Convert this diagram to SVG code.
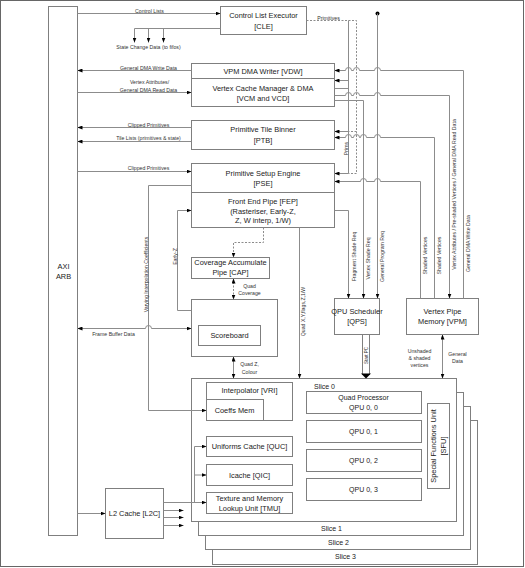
<svg xmlns="http://www.w3.org/2000/svg" width="525" height="568" viewBox="0 0 525 568">
<defs>
<style>
.b{fill:#fff;stroke:#7f7f7f;stroke-width:1}
.c{fill:none;stroke:#8c8c8c;stroke-width:1}
.d{stroke-dasharray:2 1.5}
text{font-family:"Liberation Sans",Arial,sans-serif;fill:#1a1a1a;text-anchor:middle;dominant-baseline:central}
.t{font-size:7.4px}
.q{font-size:7px}
.s{font-size:5.2px;fill:#333}
</style>
<marker id="a" viewBox="0 0 10 8" refX="10" refY="4" markerWidth="5" markerHeight="4" orient="auto-start-reverse" markerUnits="userSpaceOnUse"><path d="M0,0L10,4L0,8z" fill="#000"/></marker>
</defs>
<rect x="0" y="0" width="525" height="568" fill="#fff"/>
<rect x="0.5" y="0.5" width="523" height="566" fill="none" stroke="#666"/>
<g transform="translate(0.5,0.5)">
<g id="slices">
<rect class="b" x="212" y="420" width="265" height="144"/>
<rect class="b" x="205" y="406" width="265" height="143"/>
<rect class="b" x="198" y="392" width="265" height="143"/>
<rect class="b" x="191" y="378" width="265" height="143"/>
<text class="q" x="331" y="528">Slice 1</text>
<text class="q" x="338" y="542">Slice 2</text>
<text class="q" x="345" y="556">Slice 3</text>
<text class="q" x="324" y="386">Slice 0</text>
</g>
<g id="axi"><rect class="b" x="48" y="6" width="29" height="529"/><text class="t" x="63" y="266">AXI</text><text class="t" x="63" y="276">ARB</text></g>
<g id="cle"><rect class="b" x="220" y="6" width="86" height="28"/><text class="t" x="263" y="15">Control List Executor</text><text class="t" x="263" y="26">[CLE]</text></g>
<g id="vdw"><rect class="b" x="191" y="63" width="143" height="15"/><text class="t" x="262.5" y="71">VPM DMA Writer [VDW]</text></g>
<g id="vcm"><rect class="b" x="191" y="78" width="143" height="28"/><text class="t" x="262.5" y="88">Vertex Cache Manager &amp; DMA</text><text class="t" x="262.5" y="98">[VCM and VCD]</text></g>
<g id="ptb"><rect class="b" x="191" y="120" width="143" height="29"/><text class="t" x="262.5" y="129">Primitive Tile Binner</text><text class="t" x="262.5" y="140">[PTB]</text></g>
<g id="pse"><rect class="b" x="191" y="163" width="143" height="29"/><text class="t" x="262.5" y="173">Primitive Setup Engine</text><text class="t" x="262.5" y="183">[PSE]</text></g>
<g id="fep"><rect class="b" x="191" y="192" width="143" height="35"/><text class="t" x="262.5" y="201">Front End Pipe [FEP]</text><text class="t" x="262.5" y="211">(Rasteriser, Early-Z,</text><text class="t" x="262.5" y="220">Z, W interp, 1/W)</text></g>
<g id="cap"><rect class="b" x="191" y="257" width="78" height="21"/><text class="t" x="230" y="262">Coverage Accumulate</text><text class="t" x="230" y="272">Pipe [CAP]</text></g>
<g id="scoreboard"><rect class="b" x="191" y="299" width="86" height="57"/><rect class="b" x="198" y="325" width="62" height="20"/><text class="t" x="229" y="335">Scoreboard</text></g>
<g id="qps"><rect class="b" x="334" y="298" width="45" height="36"/><text class="t" x="356.5" y="311">QPU Scheduler</text><text class="t" x="356.5" y="321">[QPS]</text></g>
<g id="vpm"><rect class="b" x="406" y="298" width="72" height="36"/><text class="t" x="442" y="311">Vertex Pipe</text><text class="t" x="442" y="321">Memory [VPM]</text></g>
<g id="vri"><rect class="b" x="206" y="382" width="86" height="38"/><text class="t" x="249" y="390">Interpolator [VRI]</text></g>
<g id="coeffs"><rect class="b" x="206" y="399" width="57" height="21"/><text class="t" x="234" y="410">Coeffs Mem</text></g>
<g id="quc"><rect class="b" x="206" y="436" width="86" height="20"/><text class="t" x="249" y="446">Uniforms Cache [QUC]</text></g>
<g id="qic"><rect class="b" x="206" y="464" width="86" height="21"/><text class="t" x="249" y="474.5">Icache [QIC]</text></g>
<g id="tmu"><rect class="b" x="206" y="492" width="86" height="21"/><text class="t" x="249" y="498">Texture and Memory</text><text class="t" x="249" y="508">Lookup Unit [TMU]</text></g>
<g id="qpu00"><rect class="b" x="306" y="391" width="115" height="22"/><text class="q" x="363" y="397">Quad Processor</text><text class="q" x="363" y="407">QPU 0, 0</text></g>
<g id="qpu01"><rect class="b" x="306" y="420" width="115" height="22"/><text class="q" x="363" y="431">QPU 0, 1</text></g>
<g id="qpu02"><rect class="b" x="306" y="449" width="115" height="22"/><text class="q" x="363" y="460">QPU 0, 2</text></g>
<g id="qpu03"><rect class="b" x="306" y="478" width="115" height="22"/><text class="q" x="363" y="489">QPU 0, 3</text></g>
<g id="sfu"><rect class="b" x="427" y="403" width="22" height="85"/><text class="t" transform="translate(433,445.5) rotate(-90)">Special Functions Unit</text><text class="t" transform="translate(443,445.5) rotate(-90)">[SFU]</text></g>
<g id="l2c"><rect class="b" x="105" y="488" width="58" height="50"/><text class="t" x="134" y="513">L2 Cache [L2C]</text></g>

<g id="connectors">
<path class="c" d="M77,13H220" marker-end="url(#a)"/>
<path class="c" d="M220,28H134V42" marker-end="url(#a)"/>
<path class="c" d="M148,28V42" marker-end="url(#a)"/>
<path class="c" d="M163,28V42" marker-end="url(#a)"/>
<path class="c" d="M191,70H77" marker-end="url(#a)"/>
<path class="c" d="M77,92H191" marker-end="url(#a)"/>
<path class="c" d="M191,127H77" marker-end="url(#a)"/>
<path class="c" d="M191,141H77" marker-end="url(#a)"/>
<path class="c" d="M77,171H191" marker-end="url(#a)"/>
<path class="c" d="M77,328H145A3,3 0 0 1 151,328H191" marker-start="url(#a)" marker-end="url(#a)"/>
<path class="c" d="M191,185H148V410H206" marker-end="url(#a)"/>
<path class="c" d="M191,310H177V210H191" marker-end="url(#a)"/>
<path class="c d" d="M263,227V242H233V257" marker-end="url(#a)"/>
<path class="c d" d="M233,278V299" marker-start="url(#a)" marker-end="url(#a)"/>
<path class="c" d="M233,356V378" marker-start="url(#a)" marker-end="url(#a)"/>
<path class="c" d="M299,227V378" marker-end="url(#a)"/>
<path class="c" d="M77,513H105" marker-end="url(#a)"/>
<path class="c" d="M163,510H183" marker-end="url(#a)"/>
<path class="c" d="M163,517H183" marker-end="url(#a)"/>
<path class="c" d="M163,525H183" marker-end="url(#a)"/>
<path class="c" d="M163,502H206" marker-end="url(#a)"/>
<path class="c" d="M194,502V446H206" marker-end="url(#a)"/>
<path class="c" d="M194,474.5H206" marker-end="url(#a)"/>
<path class="c d" d="M306,20H356V173H348M356,131H348"/>
<path class="c" d="M348,20V173M334,88H348"/>
<path class="c" d="M348,80H334" marker-end="url(#a)"/>
<path class="c" d="M348,131H334" marker-end="url(#a)"/>
<path class="c" d="M348,173H334" marker-end="url(#a)"/>
<path class="c" d="M334,70H345A3,3 0 0 1 351,70H353A3,3 0 0 1 359,70H374A3,3 0 0 1 380,70H463V298" marker-start="url(#a)"/>
<path class="c" d="M334,95H345A3,3 0 0 1 351,95H353A3,3 0 0 1 359,95H374A3,3 0 0 1 380,95H449V298" marker-end="url(#a)"/>
<path class="c" d="M334,100H363V298" marker-end="url(#a)"/>
<circle cx="377" cy="13" r="2" fill="#000"/>
<path class="c" d="M377,13V298" marker-end="url(#a)"/>
<path class="c" d="M334,137H345A3,3 0 0 1 351,137H353A3,3 0 0 1 359,137H360A3,3 0 0 1 366,137H374A3,3 0 0 1 380,137H434V298" marker-start="url(#a)"/>
<path class="c" d="M334,181H360A3,3 0 0 1 366,181H374A3,3 0 0 1 380,181H420V298" marker-start="url(#a)"/>
<path class="c" d="M334,210H348V298" marker-end="url(#a)"/>
<rect x="362" y="334" width="7" height="40" fill="#fff" stroke="#7f7f7f"/>
<path d="M360.5,373H370.5L365.5,378z" fill="#000"/>
<path class="c" d="M442,334V378" marker-start="url(#a)" marker-end="url(#a)"/>
</g>

<g id="labels">
<text class="s" x="149" y="10">Control Lists</text>
<text class="s" x="148" y="46">State Change Data (to fifos)</text>
<text class="s" x="148" y="67">General DMA Write Data</text>
<text class="s" x="149" y="81">Vertex Attributes/</text>
<text class="s" x="148" y="89">General DMA Read Data</text>
<text class="s" x="148" y="124">Clipped Primitives</text>
<text class="s" x="148" y="137.5">Tile Lists (primitives &amp; state)</text>
<text class="s" x="148" y="167">Clipped Primitives</text>
<text class="s" x="113" y="333">Frame Buffer Data</text>
<text class="s" x="328" y="17">Primitives</text>
<text class="s" x="249" y="285">Quad</text>
<text class="s" x="249" y="292">Coverage</text>
<text class="s" x="249" y="363">Quad Z,</text>
<text class="s" x="249" y="371">Colour</text>
<text class="s" x="419" y="350">Unshaded</text>
<text class="s" x="419" y="357">&amp; shaded</text>
<text class="s" x="419" y="364">vertices</text>
<text class="s" x="457" y="353">General</text>
<text class="s" x="457" y="360">Data</text>
<text class="s" transform="translate(145.5,274) rotate(-90)">Varying Interpolation Coefficients</text>
<text class="s" transform="translate(174,256) rotate(-90)">Early-Z</text>
<text class="s" transform="translate(302,311) rotate(-90)">Quad X,Y,flags,Z,1/W</text>
<text class="s" transform="translate(345,148) rotate(-90)">Prims</text>
<text class="s" transform="translate(353,256) rotate(-90)">Fragment Shade Req</text>
<text class="s" transform="translate(367,258) rotate(-90)">Vertex Shade Req</text>
<text class="s" transform="translate(381,256) rotate(-90)">General Program Req</text>
<text class="s" transform="translate(424,255) rotate(-90)">Shaded Vertices</text>
<text class="s" transform="translate(438,255) rotate(-90)">Shaded Vertices</text>
<text class="s" transform="translate(453,194) rotate(-90)">Vertex Attributes / Pre-shaded Vertices / General DMA Read Data</text>
<text class="s" transform="translate(467,243) rotate(-90)">General DMA Write Data</text>
<text class="s" style="font-size:4.5px" transform="translate(365.5,355) rotate(-90)">Start PC</text>
</g>
</g>
</svg>
